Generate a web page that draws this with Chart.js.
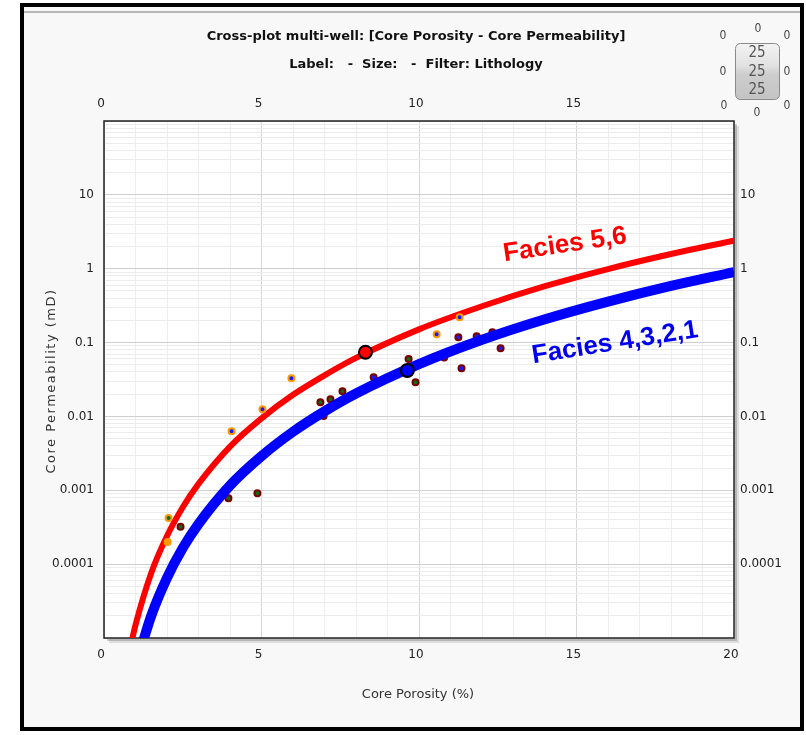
<!DOCTYPE html>
<html>
<head>
<meta charset="utf-8">
<title>Cross-plot multi-well</title>
<script src="https://cdn.jsdelivr.net/npm/chart.js@4.4.1/dist/chart.umd.min.js"></script>
<style>
  html, body { margin: 0; padding: 0; background: #fff; }
  #wrap { width: 806px; height: 735px; }
</style>
</head>
<body>
<div id="wrap"><canvas id="plot" width="806" height="735"></canvas></div>
<script>
(function () {
  'use strict';

  // axis ticks
  var X_TICK_LABELS = [0, 5, 10, 15, 20];
  var Y_TICK_LABELS = [0.0001, 0.001, 0.01, 0.1, 1, 10];

  // trend line Facies 5,6
  var RED_PHI = [0.85, 1, 1.5, 2, 2.5, 3, 4, 5, 6, 7, 8, 10, 12, 14, 16, 18, 20];
  var RED_K = [7.9e-6, 1.5e-5, 7.6e-5, 2.4e-4, 5.9e-4, 1.22e-3, 3.9e-3, 9.4e-3, 0.0196, 0.036, 0.062, 0.151, 0.31, 0.58, 0.99, 1.58, 2.4];

  // trend line Facies 4,3,2,1
  var BLUE_PHI = [1.2, 1.5, 2, 2.5, 3, 4, 5, 6, 7, 8, 10, 12, 14, 16, 18, 20];
  var BLUE_K = [7.9e-6, 2.0e-5, 6.5e-5, 1.65e-4, 3.5e-4, 1.16e-3, 2.9e-3, 6.2e-3, 0.0117, 0.0204, 0.051, 0.109, 0.207, 0.359, 0.585, 0.90];

  // core samples, orange ring
  var ORANGE_PHI = [2.05, 2.02, 4.05, 5.03, 5.95, 10.56, 11.29];
  var ORANGE_K = [4.2e-4, 2.0e-4, 6.3e-3, 0.0125, 0.033, 0.13, 0.22];

  // core samples, dark red ring / green
  var GREEN_PHI = [2.43, 3.95, 4.87, 6.87, 7.19, 7.57, 9.67, 9.89];
  var GREEN_K = [3.2e-4, 7.8e-4, 9.1e-4, 0.0156, 0.0171, 0.0219, 0.060, 0.029];

  // core samples, dark red ring / blue
  var DOT_PHI = [6.97, 8.56, 10.8, 11.25, 11.35, 11.83, 12.33, 12.59];
  var DOT_K = [0.0101, 0.034, 0.063, 0.118, 0.045, 0.122, 0.138, 0.084];

  // highlighted samples
  var BIG_RED_PHI = [8.30];
  var BIG_RED_K = [0.074];
  var BIG_BLUE_PHI = [9.63];
  var BIG_BLUE_K = [0.042];

  function pts(xs, ys) {
    return xs.map(function (x, i) { return { x: x, y: ys[i] }; });
  }

  function isDecade(v) {
    var l = Math.log10(v);
    return Math.abs(l - Math.round(l)) < 1e-6;
  }

  function yLabel(value) {
    for (var i = 0; i < Y_TICK_LABELS.length; i++) {
      if (Math.abs(Y_TICK_LABELS[i] - value) < Y_TICK_LABELS[i] * 1e-6) return String(Y_TICK_LABELS[i]);
    }
    return '';
  }

  function logTicks(axis) {
    var t = [];
    for (var e = -5; e <= 1; e++) {
      for (var m = 1; m <= 9; m++) t.push({ value: m * Math.pow(10, e) });
    }
    t.push({ value: 100 });
    axis.ticks = t;
  }

  var tickFont = { family: '"DejaVu Sans", sans-serif', size: 12 };

  var framePlugin = {
    id: 'frame',
    beforeDraw: function (chart) {
      var c = chart.ctx, a = chart.chartArea;
      c.save();
      c.fillStyle = '#ffffff';
      c.fillRect(0, 0, 806, 735);
      c.fillStyle = '#f8f8f8';
      c.fillRect(24, 7, 776, 720);
      c.fillStyle = '#b8b8b8';
      c.fillRect(24, 11, 776, 2);
      c.fillStyle = '#000';
      c.fillRect(20, 3, 4, 728);
      c.fillRect(20, 3, 784, 4);
      c.fillRect(800, 3, 4, 728);
      c.fillRect(20, 727, 784, 4);
      // plot shadow
      c.fillStyle = 'rgba(0,0,0,0.10)';
      c.fillRect(a.left + 5, a.top + 5, a.width, a.height);
      c.fillStyle = 'rgba(0,0,0,0.18)';
      c.fillRect(a.left + 3, a.top + 3, a.width, a.height);
      c.fillStyle = '#ffffff';
      c.fillRect(a.left, a.top, a.width, a.height);
      c.restore();
    },
    beforeDatasetsDraw: function (chart) {
      var c = chart.ctx, a = chart.chartArea;
      c.save();
      c.strokeStyle = '#222';
      c.lineWidth = 1.5;
      c.strokeRect(a.left, a.top, a.width, a.height);
      c.restore();
    },
    afterDraw: function (chart) {
      var c = chart.ctx;
      c.save();
      c.fillStyle = '#111';
      c.textAlign = 'center';
      c.textBaseline = 'middle';
      c.font = 'bold 13px "DejaVu Sans", sans-serif';
      c.fillText('Cross-plot multi-well: [Core Porosity - Core Permeability]', 416, 37);
      c.fillText('Label:   -  Size:   -  Filter: Lithology', 416, 65);

      c.fillStyle = '#333';
      c.font = '13px "DejaVu Sans", sans-serif';
      c.fillText('Core Porosity (%)', 418, 695);
      c.save();
      c.translate(52, 381);
      c.rotate(-Math.PI / 2);
      c.letterSpacing = '1.5px';
      c.fillText('Core Permeability (mD)', 0, 0);
      c.restore();

      // facies labels
      c.font = 'bold 26px "Liberation Sans", Arial, sans-serif';
      c.save();
      c.translate(565, 245);
      c.rotate(-8.5 * Math.PI / 180);
      c.fillStyle = '#ff0000';
      c.fillText('Facies 5,6', 0, 0);
      c.restore();
      c.save();
      c.translate(615, 343);
      c.rotate(-9 * Math.PI / 180);
      c.fillStyle = '#0000ee';
      c.fillText('Facies 4,3,2,1', 0, 0);
      c.restore();

      // little zoom widget top right
      var g = c.createLinearGradient(0, 43, 0, 99);
      g.addColorStop(0, '#f4f4f4');
      g.addColorStop(0.4, '#e2e2e2');
      g.addColorStop(0.55, '#cdcdcd');
      g.addColorStop(1, '#c4c4c4');
      c.fillStyle = g;
      c.strokeStyle = '#8a8a8a';
      c.lineWidth = 1;
      c.beginPath();
      c.roundRect(735.5, 43.5, 44, 56, 5);
      c.fill();
      c.stroke();
      c.fillStyle = '#555';
      c.font = '15px "DejaVu Sans Condensed", "DejaVu Sans", sans-serif';
      c.fillText('25', 757, 53);
      c.fillText('25', 757, 72);
      c.fillText('25', 757, 90);
      c.fillStyle = '#444';
      c.font = '12px "DejaVu Sans Condensed", "DejaVu Sans", sans-serif';
      [[723, 36], [758, 29], [787, 36], [723, 72], [787, 72], [724, 106], [757, 113], [787, 106]].forEach(function (p) {
        c.fillText('0', p[0], p[1]);
      });
      c.restore();
    }
  };

  var ctx = document.getElementById('plot').getContext('2d');

  new Chart(ctx, {
    type: 'scatter',
    data: {
      datasets: [
        {
          label: 'big red', data: pts(BIG_RED_PHI, BIG_RED_K), order: 0,
          pointRadius: 6.5, borderWidth: 2, backgroundColor: '#ff0000', borderColor: '#000'
        },
        {
          label: 'big blue', data: pts(BIG_BLUE_PHI, BIG_BLUE_K), order: 0,
          pointRadius: 6.5, borderWidth: 2, backgroundColor: '#0000ff', borderColor: '#000'
        },
        {
          label: 'Facies 4,3,2,1', data: pts(BLUE_PHI, BLUE_K), order: 1,
          showLine: true, pointRadius: 0, borderWidth: 10, borderColor: '#0000ff',
          cubicInterpolationMode: 'monotone'
        },
        {
          label: 'orange', data: pts(ORANGE_PHI, ORANGE_K), order: 2,
          pointRadius: 3, borderWidth: 2, borderColor: '#ff9900',
          backgroundColor: ['#0f6b0f', '#ff9900', '#1a1aff', '#1a1aff', '#1a1aff', '#1a1aff', '#1a1aff']
        },
        {
          label: 'green', data: pts(GREEN_PHI, GREEN_K), order: 2,
          pointRadius: 3, borderWidth: 2, backgroundColor: '#0f6b0f', borderColor: '#7a0000'
        },
        {
          label: 'dot', data: pts(DOT_PHI, DOT_K), order: 2,
          pointRadius: 3, borderWidth: 2, backgroundColor: '#1a1aff', borderColor: '#7a0000'
        },
        {
          label: 'Facies 5,6', data: pts(RED_PHI, RED_K), order: 3,
          showLine: true, pointRadius: 0, borderWidth: 6, borderColor: '#ff0000',
          cubicInterpolationMode: 'monotone'
        }
      ]
    },
    options: {
      responsive: false,
      animation: false,
      events: [],
      layout: { padding: 0 },
      plugins: { legend: { display: false }, tooltip: { enabled: false } },
      scales: {
        x: {
          type: 'linear', position: 'bottom', min: 0, max: 20,
          ticks: {
            stepSize: 1, autoSkip: false, maxRotation: 0, padding: 10, labelOffset: -3,
            color: '#222', font: tickFont,
            callback: function (v) { return X_TICK_LABELS.indexOf(v) >= 0 ? String(v) : ''; }
          },
          grid: {
            drawTicks: false,
            color: function (c) { return c.tick && c.tick.value % 5 === 0 ? '#d6d6d6' : '#eeeeee'; }
          },
          border: { display: false },
          afterFit: function (s) { s.height = 97; }
        },
        x2: {
          type: 'linear', position: 'top', min: 0, max: 20,
          ticks: {
            stepSize: 1, autoSkip: false, maxRotation: 0, padding: 10, labelOffset: -3,
            color: '#222', font: tickFont,
            callback: function (v) { return X_TICK_LABELS.indexOf(v) >= 0 && v !== 20 ? String(v) : ''; }
          },
          grid: { display: false, drawTicks: false },
          border: { display: false },
          afterFit: function (s) { s.height = 121; }
        },
        y: {
          type: 'logarithmic', position: 'left', min: 1e-5, max: 100,
          afterBuildTicks: logTicks,
          ticks: { autoSkip: false, padding: 10, color: '#222', font: tickFont, callback: yLabel },
          grid: {
            drawTicks: false,
            color: function (c) { return c.tick && isDecade(c.tick.value) ? '#cfcfcf' : '#ececec'; }
          },
          border: { display: false },
          afterFit: function (s) { s.width = 104; }
        },
        y2: {
          type: 'logarithmic', position: 'right', min: 1e-5, max: 100,
          afterBuildTicks: logTicks,
          ticks: { autoSkip: false, padding: 6, color: '#222', font: tickFont, callback: yLabel },
          grid: { display: false, drawTicks: false },
          border: { display: false },
          afterFit: function (s) { s.width = 72; }
        }
      }
    },
    plugins: [framePlugin]
  });
})();
</script>
</body>
</html>
